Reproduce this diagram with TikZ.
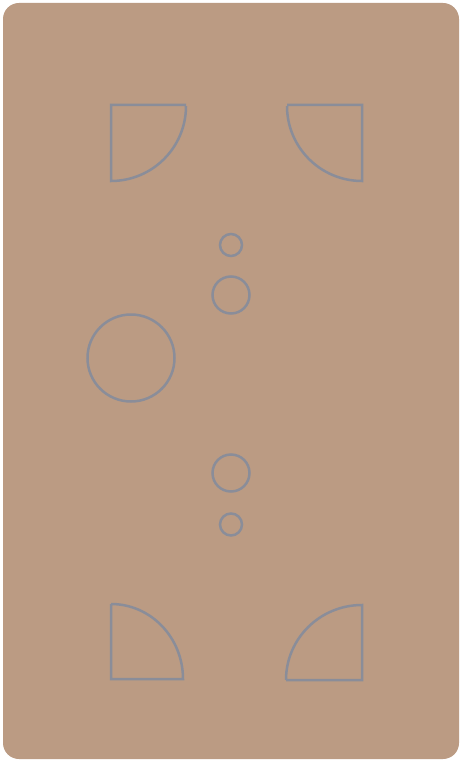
\documentclass[tikz,border=0pt]{standalone}
\definecolor{board}{RGB}{187,155,131}
\definecolor{mark}{RGB}{138,141,153}
\begin{document}
\begin{tikzpicture}[x=1pt,y=-1pt]
 \useasboundingbox (0,0) rectangle (462,762);
 \tikzset{piece/.style={draw=mark,line width=2.5pt}}
 \fill[board,rounded corners=16pt](3,3) rectangle (459,759);
 \draw[piece](186,105)--(111,105)--(111,181) arc (90:0:75);
 \draw[piece](287,105)--(362,105)--(362,181) arc (90:180:75);
 \draw[piece](111,604)--(111,679)--(183,679) arc (0:-90:72 and 75);
 \draw[piece](286,680)--(362,680)--(362,605) arc (-90:-180:76 and 75);
 \draw[piece](231,245) circle (11);
 \draw[piece](231,295) circle (18.5);
 \draw[piece](131,358) circle (43.5);
 \draw[piece](231,473) circle (18.5);
 \draw[piece](231,524.5) circle (11);
\end{tikzpicture}
\end{document}
